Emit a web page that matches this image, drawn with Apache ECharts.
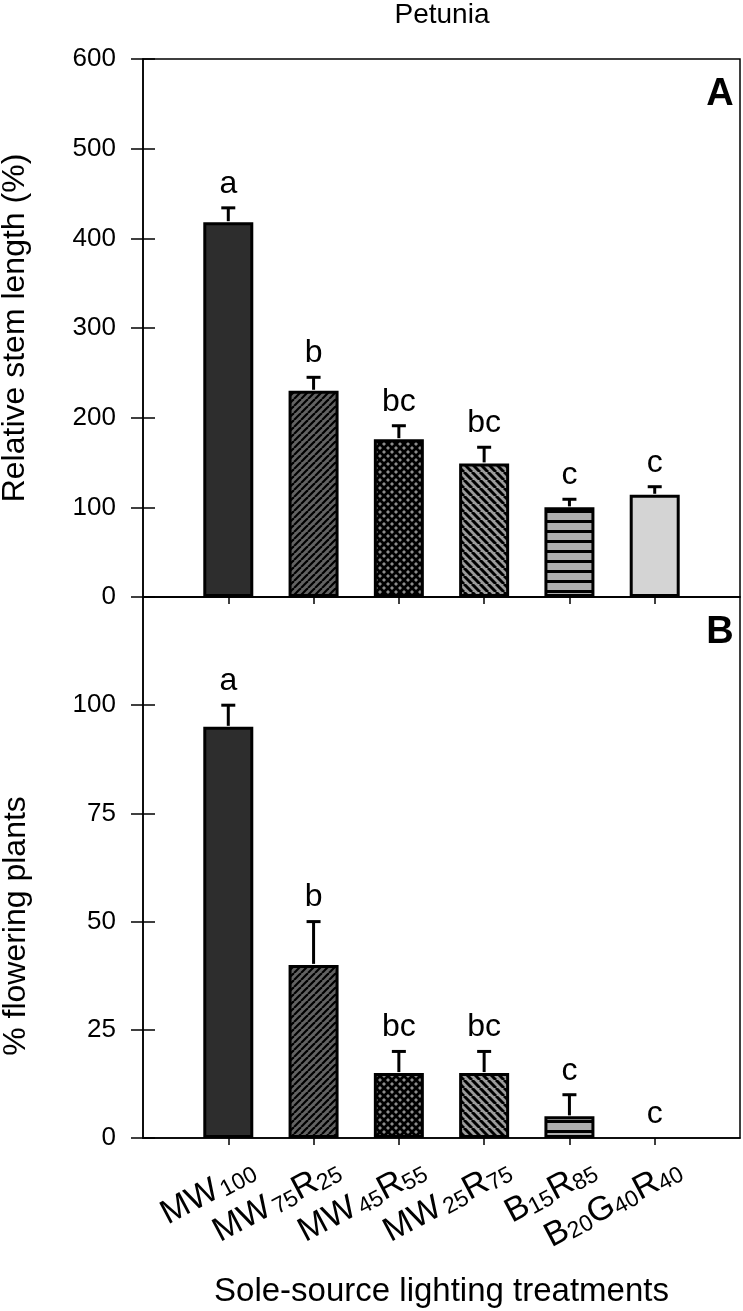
<!DOCTYPE html>
<html>
<head>
<meta charset="utf-8">
<script src="https://cdn.jsdelivr.net/npm/echarts@6/dist/echarts.min.js"></script>
<style>
html,body{margin:0;padding:0;background:#fff;}
#chart{width:743px;height:1311px;}
</style>
</head>
<body>
<div id="chart"></div>
<script>
// ---- data ----
const categories = ['MW100', 'MW75R25', 'MW45R55', 'MW25R75', 'B15R85', 'B20G40R40'];
const tickLabels = [
  '{m|MW} {s|100}',
  '{m|MW} {s|75}{m|R}{s|25}',
  '{m|MW} {s|45}{m|R}{s|55}',
  '{m|MW} {s|25}{m|R}{s|75}',
  '{m|B}{s|15}{m|R}{s|85}',
  '{m|B}{s|20}{m|G}{s|40}{m|R}{s|40}'
];
const stemMean = [418, 230, 176, 149, 100, 114];
const stemErr = [16, 15, 15, 18, 9, 9];
const stemLetters = ['a', 'b', 'bc', 'bc', 'c', 'c'];
const flowerMean = [95, 40, 15, 15, 5, 0];
const flowerErr = [5, 10, 5, 5, 5, 0];
const flowerLetters = ['a', 'b', 'bc', 'bc', 'c', 'c'];
const positions = [1, 2, 3, 4, 5, 6];

// ---- patterns ----
function tile(size, bg) {
  const c = document.createElement('canvas');
  c.width = size; c.height = size;
  const ctx = c.getContext('2d');
  ctx.fillStyle = bg; ctx.fillRect(0, 0, size, size);
  return [c, ctx];
}
function diag(ctx, P, dir) {
  for (let k = -1; k <= 1; k++) {
    ctx.beginPath();
    if (dir === '/') { ctx.moveTo(k * P, P); ctx.lineTo(k * P + P, 0); }
    else { ctx.moveTo(k * P, 0); ctx.lineTo(k * P + P, P); }
    ctx.stroke();
  }
}
function fwdHatch(bg, lw, P) {
  const [c, ctx] = tile(P, bg);
  ctx.strokeStyle = '#000'; ctx.lineWidth = lw; diag(ctx, P, '/');
  return { image: c, repeat: 'repeat' };
}
function backHatch(bg, lw, P) {
  const [c, ctx] = tile(P, bg);
  ctx.strokeStyle = '#000'; ctx.lineWidth = lw; diag(ctx, P, '\\');
  return { image: c, repeat: 'repeat' };
}
function crossHatch(bg, lw, P) {
  const [c, ctx] = tile(P, bg);
  ctx.strokeStyle = '#000'; ctx.lineWidth = lw; diag(ctx, P, '/'); diag(ctx, P, '\\');
  return { image: c, repeat: 'repeat' };
}
function hStripe(bg, lw, P) {
  const [c, ctx] = tile(P, bg);
  ctx.fillStyle = '#000'; ctx.fillRect(0, 0, P, lw);
  return { image: c, repeat: 'repeat' };
}
const fills = [
  '#2d2d2d',
  fwdHatch('#626262', 2.2, 7),
  crossHatch('#8c8c8c', 2.8, 8),
  backHatch('#9c9c9c', 3, 8),
  hStripe('#adadad', 3, 10),
  '#d4d4d4'
];

const FONT = 'Liberation Sans, Arial, Helvetica, sans-serif';

function barData(vals) {
  return vals.map((v, i) => ({
    value: [positions[i], v],
    itemStyle: { color: fills[i], borderWidth: v === 0 ? 0 : 3 }
  }));
}
function errData(means, errs) {
  return means.map((m, i) => [positions[i], m, errs[i]]);
}
function errRender(letters) {
  return function (params, api) {
    const x = api.value(0), m = api.value(1), e = api.value(2);
    const base = api.coord([x, m]);
    const top = api.coord([x, m + e]);
    const children = [];
    if (e > 0) {
      children.push({ type: 'line', shape: { x1: base[0], y1: base[1] - 1, x2: top[0], y2: top[1] }, style: { stroke: '#000', lineWidth: 3 } });
      children.push({ type: 'line', shape: { x1: top[0] - 7, y1: top[1], x2: top[0] + 7, y2: top[1] }, style: { stroke: '#000', lineWidth: 3 } });
    }
    children.push({
      type: 'text',
      style: { text: letters[params.dataIndex], x: top[0], y: top[1] - 8, align: 'center', verticalAlign: 'bottom', fontSize: 32, fontFamily: FONT, fill: '#000' }
    });
    return { type: 'group', children: children };
  };
}

const axisLineStyle = { color: '#000', width: 1.5 };

function yMain(grid, max, step, hideTop, name) {
  return {
    gridIndex: grid, type: 'value', min: 0, max: max, interval: step, position: 'left',
    axisLine: { show: true, onZero: false, lineStyle: axisLineStyle },
    axisTick: { show: true, length: 12, lineStyle: axisLineStyle },
    axisLabel: {
      margin: 27, fontSize: 26, fontFamily: FONT, color: '#000',
      formatter: v => (hideTop && v === max) ? '' : String(v)
    },
    splitLine: { show: false },
    name: name || '', nameLocation: 'middle', nameGap: 112,
    nameTextStyle: { fontSize: 32, fontFamily: FONT, color: '#000' }
  };
}
function yInner(grid, max, step) {
  return {
    gridIndex: grid, type: 'value', min: 0, max: max, interval: step, position: 'left',
    axisLine: { show: false, onZero: false },
    axisTick: { show: true, inside: true, length: 12, lineStyle: axisLineStyle },
    axisLabel: { show: false },
    splitLine: { show: false }
  };
}
function xAxis(grid, withLabels) {
  return {
    gridIndex: grid, type: 'value', min: 0, max: 7, interval: 1,
    axisLine: { show: true, onZero: false, lineStyle: axisLineStyle },
    axisTick: { show: true, length: 7, customValues: positions, lineStyle: axisLineStyle },
    axisLabel: withLabels ? {
      show: true, customValues: positions, rotate: 28, margin: 45,
      padding: [0, -29, 0, 0],
      formatter: v => tickLabels[positions.indexOf(v)] || '',
      rich: {
        m: { fontSize: 34, lineHeight: 32, fontFamily: FONT, color: '#000', verticalAlign: 'bottom' },
        s: { fontSize: 23, lineHeight: 13, fontFamily: FONT, color: '#000', verticalAlign: 'bottom' }
      }
    } : { show: false },
    splitLine: { show: false },
    name: withLabels ? 'Sole-source lighting treatments' : '',
    nameLocation: 'middle', nameGap: 137,
    nameTextStyle: { fontSize: 33, fontFamily: FONT, color: '#000' }
  };
}

const chart = echarts.init(document.getElementById('chart'), null, { renderer: 'canvas' });
chart.setOption({
  animation: false,
  backgroundColor: '#fff',
  grid: [
    { left: 143, top: 59, width: 597, height: 538, show: true, borderColor: '#000', borderWidth: 1.5, containLabel: false, outerBoundsMode: 'none' },
    { left: 143, top: 597, width: 597, height: 541, show: true, borderColor: '#000', borderWidth: 1.5, containLabel: false, outerBoundsMode: 'none' }
  ],
  xAxis: [xAxis(0, false), xAxis(1, true)],
  yAxis: [
    yMain(0, 600, 100, false, 'Relative stem length (%)'),
    yMain(1, 125, 25, true, ''),
    yInner(0, 600, 100),
    yInner(1, 125, 25)
  ],
  graphic: [
    { type: 'text', x: 442, y: 15, style: { text: 'Petunia', fontSize: 28, fontFamily: FONT, fill: '#000', align: 'center', verticalAlign: 'middle' } },
    { type: 'text', x: 720, y: 95, style: { text: 'A', fontSize: 38, fontWeight: 'bold', fontFamily: FONT, fill: '#000', align: 'center', verticalAlign: 'middle' } },
    { type: 'text', x: 720, y: 633, style: { text: 'B', fontSize: 38, fontWeight: 'bold', fontFamily: FONT, fill: '#000', align: 'center', verticalAlign: 'middle' } },
    { type: 'text', x: 16, y: 926, rotation: Math.PI / 2, style: { text: '% flowering plants', fontSize: 32, fontFamily: FONT, fill: '#000', align: 'center', verticalAlign: 'middle' } }
  ],
  series: [
    { type: 'bar', name: 'stem', xAxisIndex: 0, yAxisIndex: 0, barWidth: 50, data: barData(stemMean),
      itemStyle: { borderColor: '#000', borderWidth: 3 }, z: 2 },
    { type: 'custom', name: 'stemErr', xAxisIndex: 0, yAxisIndex: 0, data: errData(stemMean, stemErr),
      renderItem: errRender(stemLetters), z: 3 },
    { type: 'bar', name: 'flower', xAxisIndex: 1, yAxisIndex: 1, barWidth: 50, data: barData(flowerMean),
      itemStyle: { borderColor: '#000', borderWidth: 3 }, z: 2 },
    { type: 'custom', name: 'flowerErr', xAxisIndex: 1, yAxisIndex: 1, data: errData(flowerMean, flowerErr),
      renderItem: errRender(flowerLetters), z: 3 }
  ]
});
</script>
</body>
</html>
